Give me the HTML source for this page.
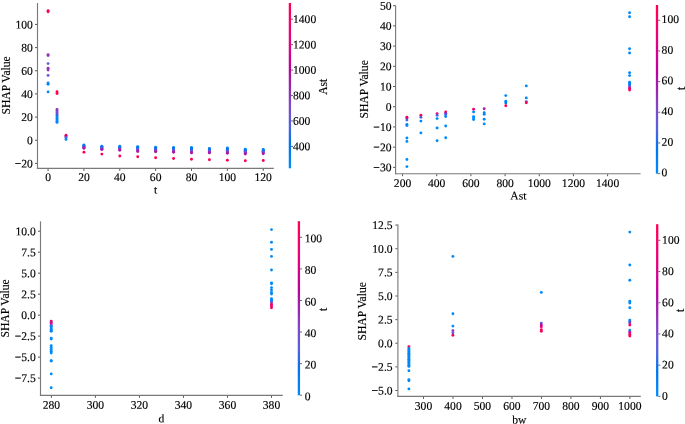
<!DOCTYPE html>
<html><head><meta charset="utf-8"><style>
html,body{margin:0;padding:0;background:#fff;overflow:hidden;}
svg{display:block;will-change:transform;}
text{font-family:"Liberation Serif",serif;font-size:11.6px;fill:#000;stroke:#000;stroke-width:0.15px;}
</style></head><body>
<svg width="685" height="424" viewBox="0 0 685 424">
<rect width="685" height="424" fill="#fff"/>
<line x1="37.5" y1="3" x2="37.5" y2="169" stroke="#7a7a7a" stroke-width="1.15"/>
<line x1="36.9" y1="168.4" x2="273.8" y2="168.4" stroke="#7a7a7a" stroke-width="1.15"/>
<line x1="35" y1="24.43" x2="37" y2="24.43" stroke="#555" stroke-width="1"/>
<text x="32.9" y="28.43" text-anchor="end" transform="rotate(0.05 32.9 28.43)">100</text>
<line x1="35" y1="47.59" x2="37" y2="47.59" stroke="#555" stroke-width="1"/>
<text x="32.9" y="51.59" text-anchor="end" transform="rotate(0.05 32.9 51.59)">80</text>
<line x1="35" y1="70.76" x2="37" y2="70.76" stroke="#555" stroke-width="1"/>
<text x="32.9" y="74.76" text-anchor="end" transform="rotate(0.05 32.9 74.76)">60</text>
<line x1="35" y1="93.92" x2="37" y2="93.92" stroke="#555" stroke-width="1"/>
<text x="32.9" y="97.92" text-anchor="end" transform="rotate(0.05 32.9 97.92)">40</text>
<line x1="35" y1="117.08" x2="37" y2="117.08" stroke="#555" stroke-width="1"/>
<text x="32.9" y="121.08" text-anchor="end" transform="rotate(0.05 32.9 121.08)">20</text>
<line x1="35" y1="140.24" x2="37" y2="140.24" stroke="#555" stroke-width="1"/>
<text x="32.9" y="144.24" text-anchor="end" transform="rotate(0.05 32.9 144.24)">0</text>
<line x1="35" y1="163.4" x2="37" y2="163.4" stroke="#555" stroke-width="1"/>
<text x="32.9" y="167.4" text-anchor="end" transform="rotate(0.05 32.9 167.4)">−20</text>
<line x1="48.07" y1="168.9" x2="48.07" y2="170.9" stroke="#555" stroke-width="1"/>
<text x="48.07" y="180.9" text-anchor="middle" transform="rotate(0.05 48.07 180.9)">0</text>
<line x1="83.93" y1="168.9" x2="83.93" y2="170.9" stroke="#555" stroke-width="1"/>
<text x="83.93" y="180.9" text-anchor="middle" transform="rotate(0.05 83.93 180.9)">20</text>
<line x1="119.78" y1="168.9" x2="119.78" y2="170.9" stroke="#555" stroke-width="1"/>
<text x="119.78" y="180.9" text-anchor="middle" transform="rotate(0.05 119.78 180.9)">40</text>
<line x1="155.64" y1="168.9" x2="155.64" y2="170.9" stroke="#555" stroke-width="1"/>
<text x="155.64" y="180.9" text-anchor="middle" transform="rotate(0.05 155.64 180.9)">60</text>
<line x1="191.49" y1="168.9" x2="191.49" y2="170.9" stroke="#555" stroke-width="1"/>
<text x="191.49" y="180.9" text-anchor="middle" transform="rotate(0.05 191.49 180.9)">80</text>
<line x1="227.35" y1="168.9" x2="227.35" y2="170.9" stroke="#555" stroke-width="1"/>
<text x="227.35" y="180.9" text-anchor="middle" transform="rotate(0.05 227.35 180.9)">100</text>
<line x1="263.21" y1="168.9" x2="263.21" y2="170.9" stroke="#555" stroke-width="1"/>
<text x="263.21" y="180.9" text-anchor="middle" transform="rotate(0.05 263.21 180.9)">120</text>
<text x="155.6" y="193.5" text-anchor="middle" transform="rotate(0.05 155.6 193.5)">t</text>
<text x="9.7" y="85.4" text-anchor="middle" transform="rotate(-90 9.7 85.4)">SHAP Value</text>
<defs><linearGradient id="cb1" x1="0" y1="0" x2="0" y2="1"><stop offset="0.00" stop-color="#ff0051"/><stop offset="0.05" stop-color="#fe005c"/><stop offset="0.10" stop-color="#f80067"/><stop offset="0.15" stop-color="#f10072"/><stop offset="0.20" stop-color="#e9007c"/><stop offset="0.25" stop-color="#e00086"/><stop offset="0.30" stop-color="#d5008f"/><stop offset="0.35" stop-color="#c80098"/><stop offset="0.40" stop-color="#ba00a0"/><stop offset="0.45" stop-color="#ab15a7"/><stop offset="0.50" stop-color="#9c24ad"/><stop offset="0.55" stop-color="#9134ba"/><stop offset="0.60" stop-color="#8443c6"/><stop offset="0.65" stop-color="#754fd1"/><stop offset="0.70" stop-color="#635adb"/><stop offset="0.75" stop-color="#4a63e3"/><stop offset="0.80" stop-color="#236cea"/><stop offset="0.85" stop-color="#0074f0"/><stop offset="0.90" stop-color="#007cf5"/><stop offset="0.95" stop-color="#0084f9"/><stop offset="1.00" stop-color="#008bfb"/></linearGradient></defs>
<rect x="288.75" y="3" width="2.3" height="165.3" fill="url(#cb1)"/>
<line x1="291.05" y1="146.4" x2="293.05" y2="146.4" stroke="#555" stroke-width="0.9"/>
<text x="293" y="150.15" transform="rotate(0.05 293 150.15)">400</text>
<line x1="291.05" y1="120.96" x2="293.05" y2="120.96" stroke="#555" stroke-width="0.9"/>
<text x="293" y="124.71" transform="rotate(0.05 293 124.71)">600</text>
<line x1="291.05" y1="95.52" x2="293.05" y2="95.52" stroke="#555" stroke-width="0.9"/>
<text x="293" y="99.27" transform="rotate(0.05 293 99.27)">800</text>
<line x1="291.05" y1="70.08" x2="293.05" y2="70.08" stroke="#555" stroke-width="0.9"/>
<text x="293" y="73.83" transform="rotate(0.05 293 73.83)">1000</text>
<line x1="291.05" y1="44.64" x2="293.05" y2="44.64" stroke="#555" stroke-width="0.9"/>
<text x="293" y="48.39" transform="rotate(0.05 293 48.39)">1200</text>
<line x1="291.05" y1="19.2" x2="293.05" y2="19.2" stroke="#555" stroke-width="0.9"/>
<text x="293" y="22.95" transform="rotate(0.05 293 22.95)">1400</text>
<text x="327.1" y="86.7" text-anchor="middle" transform="rotate(-90 327.1 86.7)">Ast</text>
<circle cx="48.07" cy="10.7" r="1.45" fill="#ff0051"/>
<circle cx="48.07" cy="11.7" r="1.45" fill="#ff0051"/>
<circle cx="48.07" cy="54.6" r="1.45" fill="#9134ba"/>
<circle cx="48.07" cy="55.6" r="1.45" fill="#9134ba"/>
<circle cx="48.07" cy="63.6" r="1.45" fill="#635adb"/>
<circle cx="48.07" cy="68.2" r="1.45" fill="#9134ba"/>
<circle cx="48.07" cy="70" r="1.45" fill="#9134ba"/>
<circle cx="48.07" cy="75.4" r="1.45" fill="#635adb"/>
<circle cx="48.07" cy="82.9" r="1.45" fill="#0084f9"/>
<circle cx="48.07" cy="84.3" r="1.45" fill="#0084f9"/>
<circle cx="48.07" cy="91.9" r="1.45" fill="#008bfb"/>
<circle cx="57.03" cy="91.7" r="1.45" fill="#ff0051"/>
<circle cx="57.03" cy="93.5" r="1.45" fill="#ff0051"/>
<circle cx="57.03" cy="109.5" r="1.45" fill="#9134ba"/>
<circle cx="57.03" cy="111" r="1.45" fill="#893dc1"/>
<circle cx="57.03" cy="112.5" r="1.45" fill="#635adb"/>
<circle cx="57.03" cy="114" r="1.45" fill="#8443c6"/>
<circle cx="57.03" cy="115.5" r="1.45" fill="#236cea"/>
<circle cx="57.03" cy="117" r="1.45" fill="#0086fa"/>
<circle cx="57.03" cy="118.5" r="1.45" fill="#0086fa"/>
<circle cx="57.03" cy="120" r="1.45" fill="#0086fa"/>
<circle cx="57.03" cy="121.5" r="1.45" fill="#0086fa"/>
<circle cx="57.03" cy="122.4" r="1.45" fill="#0086fa"/>
<circle cx="66" cy="135.3" r="1.45" fill="#ff0051"/>
<circle cx="66" cy="136.5" r="1.45" fill="#ba00a0"/>
<circle cx="66" cy="137.5" r="1.45" fill="#635adb"/>
<circle cx="66" cy="139.4" r="1.45" fill="#0086fa"/>
<circle cx="83.93" cy="145" r="1.45" fill="#008bfb"/>
<circle cx="83.93" cy="145.46" r="1.45" fill="#0082f8"/>
<circle cx="83.93" cy="145.91" r="1.45" fill="#0077f2"/>
<circle cx="83.93" cy="146.37" r="1.45" fill="#0071ee"/>
<circle cx="83.93" cy="146.83" r="1.45" fill="#635adb"/>
<circle cx="83.93" cy="147.29" r="1.45" fill="#754fd1"/>
<circle cx="83.93" cy="147.74" r="1.45" fill="#8f36bb"/>
<circle cx="83.93" cy="148.2" r="1.45" fill="#a71aa9"/>
<circle cx="83.93" cy="152.3" r="1.45" fill="#ff0051"/>
<circle cx="101.85" cy="146.3" r="1.45" fill="#008bfb"/>
<circle cx="101.85" cy="146.77" r="1.45" fill="#0082f8"/>
<circle cx="101.85" cy="147.24" r="1.45" fill="#0077f2"/>
<circle cx="101.85" cy="147.71" r="1.45" fill="#0071ee"/>
<circle cx="101.85" cy="148.19" r="1.45" fill="#635adb"/>
<circle cx="101.85" cy="148.66" r="1.45" fill="#754fd1"/>
<circle cx="101.85" cy="149.13" r="1.45" fill="#8f36bb"/>
<circle cx="101.85" cy="149.6" r="1.45" fill="#a71aa9"/>
<circle cx="101.85" cy="154.1" r="1.45" fill="#ff0051"/>
<circle cx="119.78" cy="146.3" r="1.45" fill="#008bfb"/>
<circle cx="119.78" cy="146.86" r="1.45" fill="#0082f8"/>
<circle cx="119.78" cy="147.41" r="1.45" fill="#0077f2"/>
<circle cx="119.78" cy="147.97" r="1.45" fill="#0071ee"/>
<circle cx="119.78" cy="148.53" r="1.45" fill="#635adb"/>
<circle cx="119.78" cy="149.09" r="1.45" fill="#754fd1"/>
<circle cx="119.78" cy="149.64" r="1.45" fill="#8f36bb"/>
<circle cx="119.78" cy="150.2" r="1.45" fill="#a71aa9"/>
<circle cx="119.78" cy="156" r="1.45" fill="#ff0051"/>
<circle cx="137.71" cy="146.6" r="1.45" fill="#008bfb"/>
<circle cx="137.71" cy="147.3" r="1.45" fill="#0082f8"/>
<circle cx="137.71" cy="148" r="1.45" fill="#0077f2"/>
<circle cx="137.71" cy="148.7" r="1.45" fill="#0071ee"/>
<circle cx="137.71" cy="149.4" r="1.45" fill="#635adb"/>
<circle cx="137.71" cy="150.1" r="1.45" fill="#754fd1"/>
<circle cx="137.71" cy="150.8" r="1.45" fill="#8f36bb"/>
<circle cx="137.71" cy="151.5" r="1.45" fill="#a71aa9"/>
<circle cx="137.71" cy="156.7" r="1.45" fill="#ff0051"/>
<circle cx="155.64" cy="147.2" r="1.45" fill="#008bfb"/>
<circle cx="155.64" cy="147.86" r="1.45" fill="#0082f8"/>
<circle cx="155.64" cy="148.51" r="1.45" fill="#0077f2"/>
<circle cx="155.64" cy="149.17" r="1.45" fill="#0071ee"/>
<circle cx="155.64" cy="149.83" r="1.45" fill="#635adb"/>
<circle cx="155.64" cy="150.49" r="1.45" fill="#754fd1"/>
<circle cx="155.64" cy="151.14" r="1.45" fill="#8f36bb"/>
<circle cx="155.64" cy="151.8" r="1.45" fill="#a71aa9"/>
<circle cx="155.64" cy="157.8" r="1.45" fill="#ff0051"/>
<circle cx="173.57" cy="147.4" r="1.45" fill="#008bfb"/>
<circle cx="173.57" cy="148.09" r="1.45" fill="#0082f8"/>
<circle cx="173.57" cy="148.77" r="1.45" fill="#0077f2"/>
<circle cx="173.57" cy="149.46" r="1.45" fill="#0071ee"/>
<circle cx="173.57" cy="150.14" r="1.45" fill="#635adb"/>
<circle cx="173.57" cy="150.83" r="1.45" fill="#754fd1"/>
<circle cx="173.57" cy="151.51" r="1.45" fill="#8f36bb"/>
<circle cx="173.57" cy="152.2" r="1.45" fill="#a71aa9"/>
<circle cx="173.57" cy="158.5" r="1.45" fill="#ff0051"/>
<circle cx="191.49" cy="147.5" r="1.45" fill="#008bfb"/>
<circle cx="191.49" cy="148.27" r="1.45" fill="#0082f8"/>
<circle cx="191.49" cy="149.04" r="1.45" fill="#0077f2"/>
<circle cx="191.49" cy="149.81" r="1.45" fill="#0071ee"/>
<circle cx="191.49" cy="150.59" r="1.45" fill="#635adb"/>
<circle cx="191.49" cy="151.36" r="1.45" fill="#754fd1"/>
<circle cx="191.49" cy="152.13" r="1.45" fill="#8f36bb"/>
<circle cx="191.49" cy="152.9" r="1.45" fill="#a71aa9"/>
<circle cx="191.49" cy="159.3" r="1.45" fill="#ff0051"/>
<circle cx="209.42" cy="148.4" r="1.45" fill="#008bfb"/>
<circle cx="209.42" cy="149.04" r="1.45" fill="#0082f8"/>
<circle cx="209.42" cy="149.69" r="1.45" fill="#0077f2"/>
<circle cx="209.42" cy="150.33" r="1.45" fill="#0071ee"/>
<circle cx="209.42" cy="150.97" r="1.45" fill="#635adb"/>
<circle cx="209.42" cy="151.61" r="1.45" fill="#754fd1"/>
<circle cx="209.42" cy="152.26" r="1.45" fill="#8f36bb"/>
<circle cx="209.42" cy="152.9" r="1.45" fill="#a71aa9"/>
<circle cx="209.42" cy="159.8" r="1.45" fill="#ff0051"/>
<circle cx="227.35" cy="147.9" r="1.45" fill="#008bfb"/>
<circle cx="227.35" cy="148.66" r="1.45" fill="#0082f8"/>
<circle cx="227.35" cy="149.41" r="1.45" fill="#0077f2"/>
<circle cx="227.35" cy="150.17" r="1.45" fill="#0071ee"/>
<circle cx="227.35" cy="150.93" r="1.45" fill="#635adb"/>
<circle cx="227.35" cy="151.69" r="1.45" fill="#754fd1"/>
<circle cx="227.35" cy="152.44" r="1.45" fill="#8f36bb"/>
<circle cx="227.35" cy="153.2" r="1.45" fill="#a71aa9"/>
<circle cx="227.35" cy="160.2" r="1.45" fill="#ff0051"/>
<circle cx="245.28" cy="149.2" r="1.45" fill="#008bfb"/>
<circle cx="245.28" cy="149.89" r="1.45" fill="#0082f8"/>
<circle cx="245.28" cy="150.57" r="1.45" fill="#0077f2"/>
<circle cx="245.28" cy="151.26" r="1.45" fill="#0071ee"/>
<circle cx="245.28" cy="151.94" r="1.45" fill="#635adb"/>
<circle cx="245.28" cy="152.63" r="1.45" fill="#754fd1"/>
<circle cx="245.28" cy="153.31" r="1.45" fill="#8f36bb"/>
<circle cx="245.28" cy="154" r="1.45" fill="#a71aa9"/>
<circle cx="245.28" cy="160.7" r="1.45" fill="#ff0051"/>
<circle cx="263.21" cy="149.4" r="1.45" fill="#008bfb"/>
<circle cx="263.21" cy="150.01" r="1.45" fill="#0082f8"/>
<circle cx="263.21" cy="150.63" r="1.45" fill="#0077f2"/>
<circle cx="263.21" cy="151.24" r="1.45" fill="#0071ee"/>
<circle cx="263.21" cy="151.86" r="1.45" fill="#635adb"/>
<circle cx="263.21" cy="152.47" r="1.45" fill="#754fd1"/>
<circle cx="263.21" cy="153.09" r="1.45" fill="#8f36bb"/>
<circle cx="263.21" cy="153.7" r="1.45" fill="#a71aa9"/>
<circle cx="263.21" cy="160.5" r="1.45" fill="#ff0051"/>
<line x1="395.6" y1="5.3" x2="395.6" y2="174.3" stroke="#7a7a7a" stroke-width="1.15"/>
<line x1="395" y1="173.7" x2="640.6" y2="173.7" stroke="#7a7a7a" stroke-width="1.15"/>
<line x1="393.1" y1="5.66" x2="395.1" y2="5.66" stroke="#555" stroke-width="1"/>
<text x="391.5" y="9.66" text-anchor="end" transform="rotate(0.05 391.5 9.66)">50</text>
<line x1="393.1" y1="25.87" x2="395.1" y2="25.87" stroke="#555" stroke-width="1"/>
<text x="391.5" y="29.87" text-anchor="end" transform="rotate(0.05 391.5 29.87)">40</text>
<line x1="393.1" y1="46.08" x2="395.1" y2="46.08" stroke="#555" stroke-width="1"/>
<text x="391.5" y="50.08" text-anchor="end" transform="rotate(0.05 391.5 50.08)">30</text>
<line x1="393.1" y1="66.29" x2="395.1" y2="66.29" stroke="#555" stroke-width="1"/>
<text x="391.5" y="70.29" text-anchor="end" transform="rotate(0.05 391.5 70.29)">20</text>
<line x1="393.1" y1="86.51" x2="395.1" y2="86.51" stroke="#555" stroke-width="1"/>
<text x="391.5" y="90.51" text-anchor="end" transform="rotate(0.05 391.5 90.51)">10</text>
<line x1="393.1" y1="106.72" x2="395.1" y2="106.72" stroke="#555" stroke-width="1"/>
<text x="391.5" y="110.72" text-anchor="end" transform="rotate(0.05 391.5 110.72)">0</text>
<line x1="393.1" y1="126.93" x2="395.1" y2="126.93" stroke="#555" stroke-width="1"/>
<text x="391.5" y="130.93" text-anchor="end" transform="rotate(0.05 391.5 130.93)">−10</text>
<line x1="393.1" y1="147.15" x2="395.1" y2="147.15" stroke="#555" stroke-width="1"/>
<text x="391.5" y="151.15" text-anchor="end" transform="rotate(0.05 391.5 151.15)">−20</text>
<line x1="393.1" y1="167.36" x2="395.1" y2="167.36" stroke="#555" stroke-width="1"/>
<text x="391.5" y="171.36" text-anchor="end" transform="rotate(0.05 391.5 171.36)">−30</text>
<line x1="402.54" y1="174.2" x2="402.54" y2="176.2" stroke="#555" stroke-width="1"/>
<text x="402.54" y="186.9" text-anchor="middle" transform="rotate(0.05 402.54 186.9)">200</text>
<line x1="436.72" y1="174.2" x2="436.72" y2="176.2" stroke="#555" stroke-width="1"/>
<text x="436.72" y="186.9" text-anchor="middle" transform="rotate(0.05 436.72 186.9)">400</text>
<line x1="470.9" y1="174.2" x2="470.9" y2="176.2" stroke="#555" stroke-width="1"/>
<text x="470.9" y="186.9" text-anchor="middle" transform="rotate(0.05 470.9 186.9)">600</text>
<line x1="505.08" y1="174.2" x2="505.08" y2="176.2" stroke="#555" stroke-width="1"/>
<text x="505.08" y="186.9" text-anchor="middle" transform="rotate(0.05 505.08 186.9)">800</text>
<line x1="539.26" y1="174.2" x2="539.26" y2="176.2" stroke="#555" stroke-width="1"/>
<text x="539.26" y="186.9" text-anchor="middle" transform="rotate(0.05 539.26 186.9)">1000</text>
<line x1="573.44" y1="174.2" x2="573.44" y2="176.2" stroke="#555" stroke-width="1"/>
<text x="573.44" y="186.9" text-anchor="middle" transform="rotate(0.05 573.44 186.9)">1200</text>
<line x1="607.62" y1="174.2" x2="607.62" y2="176.2" stroke="#555" stroke-width="1"/>
<text x="607.62" y="186.9" text-anchor="middle" transform="rotate(0.05 607.62 186.9)">1400</text>
<text x="518.4" y="199.5" text-anchor="middle" transform="rotate(0.05 518.4 199.5)">Ast</text>
<text x="368.1" y="89.35" text-anchor="middle" transform="rotate(-90 368.1 89.35)">SHAP Value</text>
<defs><linearGradient id="cb2" x1="0" y1="0" x2="0" y2="1"><stop offset="0.00" stop-color="#ff0051"/><stop offset="0.05" stop-color="#fe005c"/><stop offset="0.10" stop-color="#f80067"/><stop offset="0.15" stop-color="#f10072"/><stop offset="0.20" stop-color="#e9007c"/><stop offset="0.25" stop-color="#e00086"/><stop offset="0.30" stop-color="#d5008f"/><stop offset="0.35" stop-color="#c80098"/><stop offset="0.40" stop-color="#ba00a0"/><stop offset="0.45" stop-color="#ab15a7"/><stop offset="0.50" stop-color="#9c24ad"/><stop offset="0.55" stop-color="#9134ba"/><stop offset="0.60" stop-color="#8443c6"/><stop offset="0.65" stop-color="#754fd1"/><stop offset="0.70" stop-color="#635adb"/><stop offset="0.75" stop-color="#4a63e3"/><stop offset="0.80" stop-color="#236cea"/><stop offset="0.85" stop-color="#0074f0"/><stop offset="0.90" stop-color="#007cf5"/><stop offset="0.95" stop-color="#0084f9"/><stop offset="1.00" stop-color="#008bfb"/></linearGradient></defs>
<rect x="655.85" y="5" width="2.3" height="168.7" fill="url(#cb2)"/>
<line x1="658.15" y1="173.6" x2="660.15" y2="173.6" stroke="#555" stroke-width="0.9"/>
<text x="661.6" y="176.35" transform="rotate(0.05 661.6 176.35)">0</text>
<line x1="658.15" y1="142.94" x2="660.15" y2="142.94" stroke="#555" stroke-width="0.9"/>
<text x="661.6" y="145.69" transform="rotate(0.05 661.6 145.69)">20</text>
<line x1="658.15" y1="112.28" x2="660.15" y2="112.28" stroke="#555" stroke-width="0.9"/>
<text x="661.6" y="115.03" transform="rotate(0.05 661.6 115.03)">40</text>
<line x1="658.15" y1="81.62" x2="660.15" y2="81.62" stroke="#555" stroke-width="0.9"/>
<text x="661.6" y="84.37" transform="rotate(0.05 661.6 84.37)">60</text>
<line x1="658.15" y1="50.96" x2="660.15" y2="50.96" stroke="#555" stroke-width="0.9"/>
<text x="661.6" y="53.71" transform="rotate(0.05 661.6 53.71)">80</text>
<line x1="658.15" y1="20.3" x2="660.15" y2="20.3" stroke="#555" stroke-width="0.9"/>
<text x="661.6" y="23.05" transform="rotate(0.05 661.6 23.05)">100</text>
<text x="685.2" y="88.4" text-anchor="middle" transform="rotate(-90 685.2 88.4)">t</text>
<circle cx="406.9" cy="117.2" r="1.45" fill="#ff0051"/>
<circle cx="406.9" cy="118" r="1.45" fill="#e9007c"/>
<circle cx="406.9" cy="120.1" r="1.45" fill="#4a63e3"/>
<circle cx="406.9" cy="124.4" r="1.45" fill="#0086fa"/>
<circle cx="406.9" cy="125.6" r="1.45" fill="#0086fa"/>
<circle cx="406.9" cy="138" r="1.45" fill="#008bfb"/>
<circle cx="406.9" cy="141.4" r="1.45" fill="#008bfb"/>
<circle cx="406.9" cy="159.5" r="1.45" fill="#008bfb"/>
<circle cx="406.9" cy="166.6" r="1.45" fill="#008bfb"/>
<circle cx="420.9" cy="115.2" r="1.45" fill="#ff0051"/>
<circle cx="420.9" cy="117.3" r="1.45" fill="#4a63e3"/>
<circle cx="420.9" cy="121.1" r="1.45" fill="#0086fa"/>
<circle cx="420.9" cy="132.9" r="1.45" fill="#008bfb"/>
<circle cx="437.1" cy="113.6" r="1.45" fill="#f80067"/>
<circle cx="437.1" cy="115.3" r="1.45" fill="#4a63e3"/>
<circle cx="437.1" cy="118.6" r="1.45" fill="#0086fa"/>
<circle cx="437.1" cy="128" r="1.45" fill="#008bfb"/>
<circle cx="437.1" cy="140.7" r="1.45" fill="#008bfb"/>
<circle cx="445.7" cy="112" r="1.45" fill="#ff0051"/>
<circle cx="445.7" cy="113.2" r="1.45" fill="#9c24ad"/>
<circle cx="445.7" cy="114.5" r="1.45" fill="#4a63e3"/>
<circle cx="445.7" cy="116.5" r="1.45" fill="#0086fa"/>
<circle cx="445.7" cy="126" r="1.45" fill="#008bfb"/>
<circle cx="445.7" cy="137.7" r="1.45" fill="#008bfb"/>
<circle cx="473.6" cy="109.3" r="1.45" fill="#f10072"/>
<circle cx="473.6" cy="111.9" r="1.45" fill="#0086fa"/>
<circle cx="473.6" cy="116.6" r="1.45" fill="#008bfb"/>
<circle cx="473.6" cy="118" r="1.45" fill="#008bfb"/>
<circle cx="473.6" cy="119.5" r="1.45" fill="#008bfb"/>
<circle cx="484.2" cy="108.7" r="1.45" fill="#9c24ad"/>
<circle cx="484.2" cy="112.8" r="1.45" fill="#0086fa"/>
<circle cx="484.2" cy="114.2" r="1.45" fill="#0086fa"/>
<circle cx="484.2" cy="119.3" r="1.45" fill="#008bfb"/>
<circle cx="484.2" cy="123.9" r="1.45" fill="#008bfb"/>
<circle cx="505.8" cy="95.6" r="1.45" fill="#008bfb"/>
<circle cx="505.8" cy="101.2" r="1.45" fill="#0086fa"/>
<circle cx="505.8" cy="103" r="1.45" fill="#007cf5"/>
<circle cx="505.8" cy="105.7" r="1.45" fill="#ff0051"/>
<circle cx="526.3" cy="85.9" r="1.45" fill="#008bfb"/>
<circle cx="526.3" cy="97.9" r="1.45" fill="#0086fa"/>
<circle cx="526.3" cy="101.6" r="1.45" fill="#4a63e3"/>
<circle cx="526.3" cy="102.7" r="1.45" fill="#ff0051"/>
<circle cx="629.6" cy="12.7" r="1.45" fill="#008bfb"/>
<circle cx="629.6" cy="16.7" r="1.45" fill="#008bfb"/>
<circle cx="629.6" cy="48.8" r="1.45" fill="#008bfb"/>
<circle cx="629.6" cy="53" r="1.45" fill="#008bfb"/>
<circle cx="629.6" cy="72.7" r="1.45" fill="#008bfb"/>
<circle cx="629.6" cy="75.6" r="1.45" fill="#008bfb"/>
<circle cx="629.6" cy="82.2" r="1.45" fill="#0086fa"/>
<circle cx="629.6" cy="83.5" r="1.45" fill="#0084f9"/>
<circle cx="629.6" cy="85" r="1.45" fill="#0074f0"/>
<circle cx="629.6" cy="86.4" r="1.45" fill="#754fd1"/>
<circle cx="629.6" cy="88.3" r="1.45" fill="#d5008f"/>
<circle cx="629.6" cy="90" r="1.45" fill="#ff0051"/>
<line x1="40.5" y1="221.4" x2="40.5" y2="395.9" stroke="#7a7a7a" stroke-width="1.15"/>
<line x1="39.9" y1="395.3" x2="282.8" y2="395.3" stroke="#7a7a7a" stroke-width="1.15"/>
<line x1="38" y1="231.2" x2="40" y2="231.2" stroke="#555" stroke-width="1"/>
<text x="35.8" y="235.2" text-anchor="end" transform="rotate(0.05 35.8 235.2)">10.0</text>
<line x1="38" y1="252.19" x2="40" y2="252.19" stroke="#555" stroke-width="1"/>
<text x="35.8" y="256.19" text-anchor="end" transform="rotate(0.05 35.8 256.19)">7.5</text>
<line x1="38" y1="273.17" x2="40" y2="273.17" stroke="#555" stroke-width="1"/>
<text x="35.8" y="277.17" text-anchor="end" transform="rotate(0.05 35.8 277.17)">5.0</text>
<line x1="38" y1="294.15" x2="40" y2="294.15" stroke="#555" stroke-width="1"/>
<text x="35.8" y="298.15" text-anchor="end" transform="rotate(0.05 35.8 298.15)">2.5</text>
<line x1="38" y1="315.14" x2="40" y2="315.14" stroke="#555" stroke-width="1"/>
<text x="35.8" y="319.14" text-anchor="end" transform="rotate(0.05 35.8 319.14)">0.0</text>
<line x1="38" y1="336.12" x2="40" y2="336.12" stroke="#555" stroke-width="1"/>
<text x="35.8" y="340.12" text-anchor="end" transform="rotate(0.05 35.8 340.12)">−2.5</text>
<line x1="38" y1="357.11" x2="40" y2="357.11" stroke="#555" stroke-width="1"/>
<text x="35.8" y="361.11" text-anchor="end" transform="rotate(0.05 35.8 361.11)">−5.0</text>
<line x1="38" y1="378.09" x2="40" y2="378.09" stroke="#555" stroke-width="1"/>
<text x="35.8" y="382.09" text-anchor="end" transform="rotate(0.05 35.8 382.09)">−7.5</text>
<line x1="51.4" y1="395.8" x2="51.4" y2="397.8" stroke="#555" stroke-width="1"/>
<text x="51.4" y="408.7" text-anchor="middle" transform="rotate(0.05 51.4 408.7)">280</text>
<line x1="95.42" y1="395.8" x2="95.42" y2="397.8" stroke="#555" stroke-width="1"/>
<text x="95.42" y="408.7" text-anchor="middle" transform="rotate(0.05 95.42 408.7)">300</text>
<line x1="139.44" y1="395.8" x2="139.44" y2="397.8" stroke="#555" stroke-width="1"/>
<text x="139.44" y="408.7" text-anchor="middle" transform="rotate(0.05 139.44 408.7)">320</text>
<line x1="183.46" y1="395.8" x2="183.46" y2="397.8" stroke="#555" stroke-width="1"/>
<text x="183.46" y="408.7" text-anchor="middle" transform="rotate(0.05 183.46 408.7)">340</text>
<line x1="227.48" y1="395.8" x2="227.48" y2="397.8" stroke="#555" stroke-width="1"/>
<text x="227.48" y="408.7" text-anchor="middle" transform="rotate(0.05 227.48 408.7)">360</text>
<line x1="271.5" y1="395.8" x2="271.5" y2="397.8" stroke="#555" stroke-width="1"/>
<text x="271.5" y="408.7" text-anchor="middle" transform="rotate(0.05 271.5 408.7)">380</text>
<text x="161.5" y="422.3" text-anchor="middle" transform="rotate(0.05 161.5 422.3)">d</text>
<text x="9.4" y="308.4" text-anchor="middle" transform="rotate(-90 9.4 308.4)">SHAP Value</text>
<defs><linearGradient id="cb3" x1="0" y1="0" x2="0" y2="1"><stop offset="0.00" stop-color="#ff0051"/><stop offset="0.05" stop-color="#fe005c"/><stop offset="0.10" stop-color="#f80067"/><stop offset="0.15" stop-color="#f10072"/><stop offset="0.20" stop-color="#e9007c"/><stop offset="0.25" stop-color="#e00086"/><stop offset="0.30" stop-color="#d5008f"/><stop offset="0.35" stop-color="#c80098"/><stop offset="0.40" stop-color="#ba00a0"/><stop offset="0.45" stop-color="#ab15a7"/><stop offset="0.50" stop-color="#9c24ad"/><stop offset="0.55" stop-color="#9134ba"/><stop offset="0.60" stop-color="#8443c6"/><stop offset="0.65" stop-color="#754fd1"/><stop offset="0.70" stop-color="#635adb"/><stop offset="0.75" stop-color="#4a63e3"/><stop offset="0.80" stop-color="#236cea"/><stop offset="0.85" stop-color="#0074f0"/><stop offset="0.90" stop-color="#007cf5"/><stop offset="0.95" stop-color="#0084f9"/><stop offset="1.00" stop-color="#008bfb"/></linearGradient></defs>
<rect x="297.75" y="221.2" width="2.3" height="174.1" fill="url(#cb3)"/>
<line x1="300.05" y1="395.2" x2="302.05" y2="395.2" stroke="#555" stroke-width="0.9"/>
<text x="304.7" y="400.15" transform="rotate(0.05 304.7 400.15)">0</text>
<line x1="300.05" y1="363.62" x2="302.05" y2="363.62" stroke="#555" stroke-width="0.9"/>
<text x="304.7" y="368.57" transform="rotate(0.05 304.7 368.57)">20</text>
<line x1="300.05" y1="332.05" x2="302.05" y2="332.05" stroke="#555" stroke-width="0.9"/>
<text x="304.7" y="337" transform="rotate(0.05 304.7 337)">40</text>
<line x1="300.05" y1="300.47" x2="302.05" y2="300.47" stroke="#555" stroke-width="0.9"/>
<text x="304.7" y="305.42" transform="rotate(0.05 304.7 305.42)">60</text>
<line x1="300.05" y1="268.9" x2="302.05" y2="268.9" stroke="#555" stroke-width="0.9"/>
<text x="304.7" y="273.85" transform="rotate(0.05 304.7 273.85)">80</text>
<line x1="300.05" y1="237.32" x2="302.05" y2="237.32" stroke="#555" stroke-width="0.9"/>
<text x="304.7" y="242.27" transform="rotate(0.05 304.7 242.27)">100</text>
<text x="326.8" y="309.4" text-anchor="middle" transform="rotate(-90 326.8 309.4)">t</text>
<circle cx="51.2" cy="321.1" r="1.45" fill="#ff0051"/>
<circle cx="51.2" cy="322.3" r="1.45" fill="#9c24ad"/>
<circle cx="51.2" cy="323.8" r="1.45" fill="#f80067"/>
<circle cx="51.2" cy="325.3" r="1.45" fill="#635adb"/>
<circle cx="51.2" cy="326.6" r="1.45" fill="#0086fa"/>
<circle cx="51.2" cy="328" r="1.45" fill="#0086fa"/>
<circle cx="51.2" cy="329.4" r="1.45" fill="#0086fa"/>
<circle cx="51.2" cy="330.8" r="1.45" fill="#0086fa"/>
<circle cx="51.2" cy="331.3" r="1.45" fill="#0086fa"/>
<circle cx="51.2" cy="338.1" r="1.45" fill="#008bfb"/>
<circle cx="51.2" cy="339.1" r="1.45" fill="#008bfb"/>
<circle cx="51.2" cy="345.6" r="1.45" fill="#008bfb"/>
<circle cx="51.2" cy="347.5" r="1.45" fill="#008bfb"/>
<circle cx="51.2" cy="349.4" r="1.45" fill="#008bfb"/>
<circle cx="51.2" cy="351.2" r="1.45" fill="#008bfb"/>
<circle cx="51.2" cy="353.1" r="1.45" fill="#008bfb"/>
<circle cx="51.2" cy="361" r="1.45" fill="#008bfb"/>
<circle cx="51.2" cy="360.8" r="1.45" fill="#008bfb"/>
<circle cx="51.2" cy="373.9" r="1.45" fill="#008bfb"/>
<circle cx="51.2" cy="387.7" r="1.45" fill="#008bfb"/>
<circle cx="271.5" cy="229.6" r="1.45" fill="#008bfb"/>
<circle cx="271.5" cy="242.3" r="1.45" fill="#008bfb"/>
<circle cx="271.5" cy="249.4" r="1.45" fill="#008bfb"/>
<circle cx="271.5" cy="256.4" r="1.45" fill="#008bfb"/>
<circle cx="271.5" cy="270" r="1.45" fill="#008bfb"/>
<circle cx="271.5" cy="282.9" r="1.45" fill="#008bfb"/>
<circle cx="271.5" cy="283.7" r="1.45" fill="#008bfb"/>
<circle cx="271.5" cy="287.6" r="1.45" fill="#008bfb"/>
<circle cx="271.5" cy="290" r="1.45" fill="#008bfb"/>
<circle cx="271.5" cy="292.4" r="1.45" fill="#008bfb"/>
<circle cx="271.5" cy="294" r="1.45" fill="#008bfb"/>
<circle cx="271.5" cy="298.8" r="1.45" fill="#0086fa"/>
<circle cx="271.5" cy="300" r="1.45" fill="#0086fa"/>
<circle cx="271.5" cy="301.2" r="1.45" fill="#0086fa"/>
<circle cx="271.5" cy="302.3" r="1.45" fill="#635adb"/>
<circle cx="271.5" cy="304.3" r="1.45" fill="#f10072"/>
<circle cx="271.5" cy="306" r="1.45" fill="#e9007c"/>
<circle cx="271.5" cy="307.8" r="1.45" fill="#ff0051"/>
<line x1="397.9" y1="224.3" x2="397.9" y2="397" stroke="#7a7a7a" stroke-width="1.15"/>
<line x1="397.3" y1="396.4" x2="640.8" y2="396.4" stroke="#7a7a7a" stroke-width="1.15"/>
<line x1="395.4" y1="225.1" x2="397.4" y2="225.1" stroke="#555" stroke-width="1"/>
<text x="392.6" y="229.1" text-anchor="end" transform="rotate(0.05 392.6 229.1)">12.5</text>
<line x1="395.4" y1="248.73" x2="397.4" y2="248.73" stroke="#555" stroke-width="1"/>
<text x="392.6" y="252.73" text-anchor="end" transform="rotate(0.05 392.6 252.73)">10.0</text>
<line x1="395.4" y1="272.36" x2="397.4" y2="272.36" stroke="#555" stroke-width="1"/>
<text x="392.6" y="276.36" text-anchor="end" transform="rotate(0.05 392.6 276.36)">7.5</text>
<line x1="395.4" y1="295.99" x2="397.4" y2="295.99" stroke="#555" stroke-width="1"/>
<text x="392.6" y="299.99" text-anchor="end" transform="rotate(0.05 392.6 299.99)">5.0</text>
<line x1="395.4" y1="319.61" x2="397.4" y2="319.61" stroke="#555" stroke-width="1"/>
<text x="392.6" y="323.61" text-anchor="end" transform="rotate(0.05 392.6 323.61)">2.5</text>
<line x1="395.4" y1="343.24" x2="397.4" y2="343.24" stroke="#555" stroke-width="1"/>
<text x="392.6" y="347.24" text-anchor="end" transform="rotate(0.05 392.6 347.24)">0.0</text>
<line x1="395.4" y1="366.87" x2="397.4" y2="366.87" stroke="#555" stroke-width="1"/>
<text x="392.6" y="370.87" text-anchor="end" transform="rotate(0.05 392.6 370.87)">−2.5</text>
<line x1="395.4" y1="390.5" x2="397.4" y2="390.5" stroke="#555" stroke-width="1"/>
<text x="392.6" y="394.5" text-anchor="end" transform="rotate(0.05 392.6 394.5)">−5.0</text>
<line x1="423.5" y1="396.9" x2="423.5" y2="398.9" stroke="#555" stroke-width="1"/>
<text x="423.5" y="409.7" text-anchor="middle" transform="rotate(0.05 423.5 409.7)">300</text>
<line x1="452.99" y1="396.9" x2="452.99" y2="398.9" stroke="#555" stroke-width="1"/>
<text x="452.99" y="409.7" text-anchor="middle" transform="rotate(0.05 452.99 409.7)">400</text>
<line x1="482.47" y1="396.9" x2="482.47" y2="398.9" stroke="#555" stroke-width="1"/>
<text x="482.47" y="409.7" text-anchor="middle" transform="rotate(0.05 482.47 409.7)">500</text>
<line x1="511.96" y1="396.9" x2="511.96" y2="398.9" stroke="#555" stroke-width="1"/>
<text x="511.96" y="409.7" text-anchor="middle" transform="rotate(0.05 511.96 409.7)">600</text>
<line x1="541.44" y1="396.9" x2="541.44" y2="398.9" stroke="#555" stroke-width="1"/>
<text x="541.44" y="409.7" text-anchor="middle" transform="rotate(0.05 541.44 409.7)">700</text>
<line x1="570.93" y1="396.9" x2="570.93" y2="398.9" stroke="#555" stroke-width="1"/>
<text x="570.93" y="409.7" text-anchor="middle" transform="rotate(0.05 570.93 409.7)">800</text>
<line x1="600.42" y1="396.9" x2="600.42" y2="398.9" stroke="#555" stroke-width="1"/>
<text x="600.42" y="409.7" text-anchor="middle" transform="rotate(0.05 600.42 409.7)">900</text>
<line x1="629.9" y1="396.9" x2="629.9" y2="398.9" stroke="#555" stroke-width="1"/>
<text x="629.9" y="409.7" text-anchor="middle" transform="rotate(0.05 629.9 409.7)">1000</text>
<text x="519.4" y="423.4" text-anchor="middle" transform="rotate(0.05 519.4 423.4)">bw</text>
<text x="366.4" y="311.3" text-anchor="middle" transform="rotate(-90 366.4 311.3)">SHAP Value</text>
<defs><linearGradient id="cb4" x1="0" y1="0" x2="0" y2="1"><stop offset="0.00" stop-color="#ff0051"/><stop offset="0.05" stop-color="#fe005c"/><stop offset="0.10" stop-color="#f80067"/><stop offset="0.15" stop-color="#f10072"/><stop offset="0.20" stop-color="#e9007c"/><stop offset="0.25" stop-color="#e00086"/><stop offset="0.30" stop-color="#d5008f"/><stop offset="0.35" stop-color="#c80098"/><stop offset="0.40" stop-color="#ba00a0"/><stop offset="0.45" stop-color="#ab15a7"/><stop offset="0.50" stop-color="#9c24ad"/><stop offset="0.55" stop-color="#9134ba"/><stop offset="0.60" stop-color="#8443c6"/><stop offset="0.65" stop-color="#754fd1"/><stop offset="0.70" stop-color="#635adb"/><stop offset="0.75" stop-color="#4a63e3"/><stop offset="0.80" stop-color="#236cea"/><stop offset="0.85" stop-color="#0074f0"/><stop offset="0.90" stop-color="#007cf5"/><stop offset="0.95" stop-color="#0084f9"/><stop offset="1.00" stop-color="#008bfb"/></linearGradient></defs>
<rect x="656.05" y="224.2" width="2.3" height="172.2" fill="url(#cb4)"/>
<line x1="658.35" y1="396.4" x2="660.35" y2="396.4" stroke="#555" stroke-width="0.9"/>
<text x="662.1" y="399.8" transform="rotate(0.05 662.1 399.8)">0</text>
<line x1="658.35" y1="365.18" x2="660.35" y2="365.18" stroke="#555" stroke-width="0.9"/>
<text x="662.1" y="368.58" transform="rotate(0.05 662.1 368.58)">20</text>
<line x1="658.35" y1="333.96" x2="660.35" y2="333.96" stroke="#555" stroke-width="0.9"/>
<text x="662.1" y="337.36" transform="rotate(0.05 662.1 337.36)">40</text>
<line x1="658.35" y1="302.74" x2="660.35" y2="302.74" stroke="#555" stroke-width="0.9"/>
<text x="662.1" y="306.14" transform="rotate(0.05 662.1 306.14)">60</text>
<line x1="658.35" y1="271.52" x2="660.35" y2="271.52" stroke="#555" stroke-width="0.9"/>
<text x="662.1" y="274.92" transform="rotate(0.05 662.1 274.92)">80</text>
<line x1="658.35" y1="240.3" x2="660.35" y2="240.3" stroke="#555" stroke-width="0.9"/>
<text x="662.1" y="243.7" transform="rotate(0.05 662.1 243.7)">100</text>
<text x="684.4" y="310.5" text-anchor="middle" transform="rotate(-90 684.4 310.5)">t</text>
<circle cx="408.9" cy="346.6" r="1.45" fill="#ff0051"/>
<circle cx="408.9" cy="348.5" r="1.45" fill="#0086fa"/>
<circle cx="408.9" cy="349.69" r="1.45" fill="#0086fa"/>
<circle cx="408.9" cy="350.89" r="1.45" fill="#0086fa"/>
<circle cx="408.9" cy="352.08" r="1.45" fill="#0086fa"/>
<circle cx="408.9" cy="353.27" r="1.45" fill="#0086fa"/>
<circle cx="408.9" cy="354.47" r="1.45" fill="#0086fa"/>
<circle cx="408.9" cy="355.66" r="1.45" fill="#0086fa"/>
<circle cx="408.9" cy="356.85" r="1.45" fill="#0086fa"/>
<circle cx="408.9" cy="358.05" r="1.45" fill="#0086fa"/>
<circle cx="408.9" cy="359.24" r="1.45" fill="#0086fa"/>
<circle cx="408.9" cy="360.43" r="1.45" fill="#0086fa"/>
<circle cx="408.9" cy="361.63" r="1.45" fill="#0086fa"/>
<circle cx="408.9" cy="362.82" r="1.45" fill="#0086fa"/>
<circle cx="408.9" cy="364.01" r="1.45" fill="#0086fa"/>
<circle cx="408.9" cy="365.21" r="1.45" fill="#0086fa"/>
<circle cx="408.9" cy="366.4" r="1.45" fill="#0086fa"/>
<circle cx="408.9" cy="370.7" r="1.45" fill="#008bfb"/>
<circle cx="408.9" cy="379.6" r="1.45" fill="#008bfb"/>
<circle cx="408.9" cy="380.8" r="1.45" fill="#008bfb"/>
<circle cx="408.9" cy="388.9" r="1.45" fill="#008bfb"/>
<circle cx="452.9" cy="256.4" r="1.45" fill="#008bfb"/>
<circle cx="452.9" cy="313.7" r="1.45" fill="#008bfb"/>
<circle cx="452.9" cy="326.1" r="1.45" fill="#008bfb"/>
<circle cx="452.9" cy="330.6" r="1.45" fill="#9134ba"/>
<circle cx="452.9" cy="332.7" r="1.45" fill="#635adb"/>
<circle cx="452.9" cy="335.2" r="1.45" fill="#ff0051"/>
<circle cx="541.3" cy="292.4" r="1.45" fill="#008bfb"/>
<circle cx="541.3" cy="323.1" r="1.45" fill="#635adb"/>
<circle cx="541.3" cy="325" r="1.45" fill="#ba00a0"/>
<circle cx="541.3" cy="326.7" r="1.45" fill="#e9007c"/>
<circle cx="541.3" cy="329.8" r="1.45" fill="#ff0051"/>
<circle cx="541.3" cy="331.2" r="1.45" fill="#ff0051"/>
<circle cx="629.8" cy="232.1" r="1.45" fill="#008bfb"/>
<circle cx="629.8" cy="265" r="1.45" fill="#008bfb"/>
<circle cx="629.8" cy="280.2" r="1.45" fill="#008bfb"/>
<circle cx="629.8" cy="301.2" r="1.45" fill="#008bfb"/>
<circle cx="629.8" cy="303" r="1.45" fill="#008bfb"/>
<circle cx="629.8" cy="307.7" r="1.45" fill="#008bfb"/>
<circle cx="629.8" cy="320.1" r="1.45" fill="#0086fa"/>
<circle cx="629.8" cy="321.6" r="1.45" fill="#236cea"/>
<circle cx="629.8" cy="323" r="1.45" fill="#9134ba"/>
<circle cx="629.8" cy="325.1" r="1.45" fill="#ff0051"/>
<circle cx="629.8" cy="330.1" r="1.45" fill="#0086fa"/>
<circle cx="629.8" cy="331.6" r="1.45" fill="#8443c6"/>
<circle cx="629.8" cy="333" r="1.45" fill="#e00086"/>
<circle cx="629.8" cy="334.6" r="1.45" fill="#f80067"/>
<circle cx="629.8" cy="336" r="1.45" fill="#ff0051"/>
</svg></body></html>
